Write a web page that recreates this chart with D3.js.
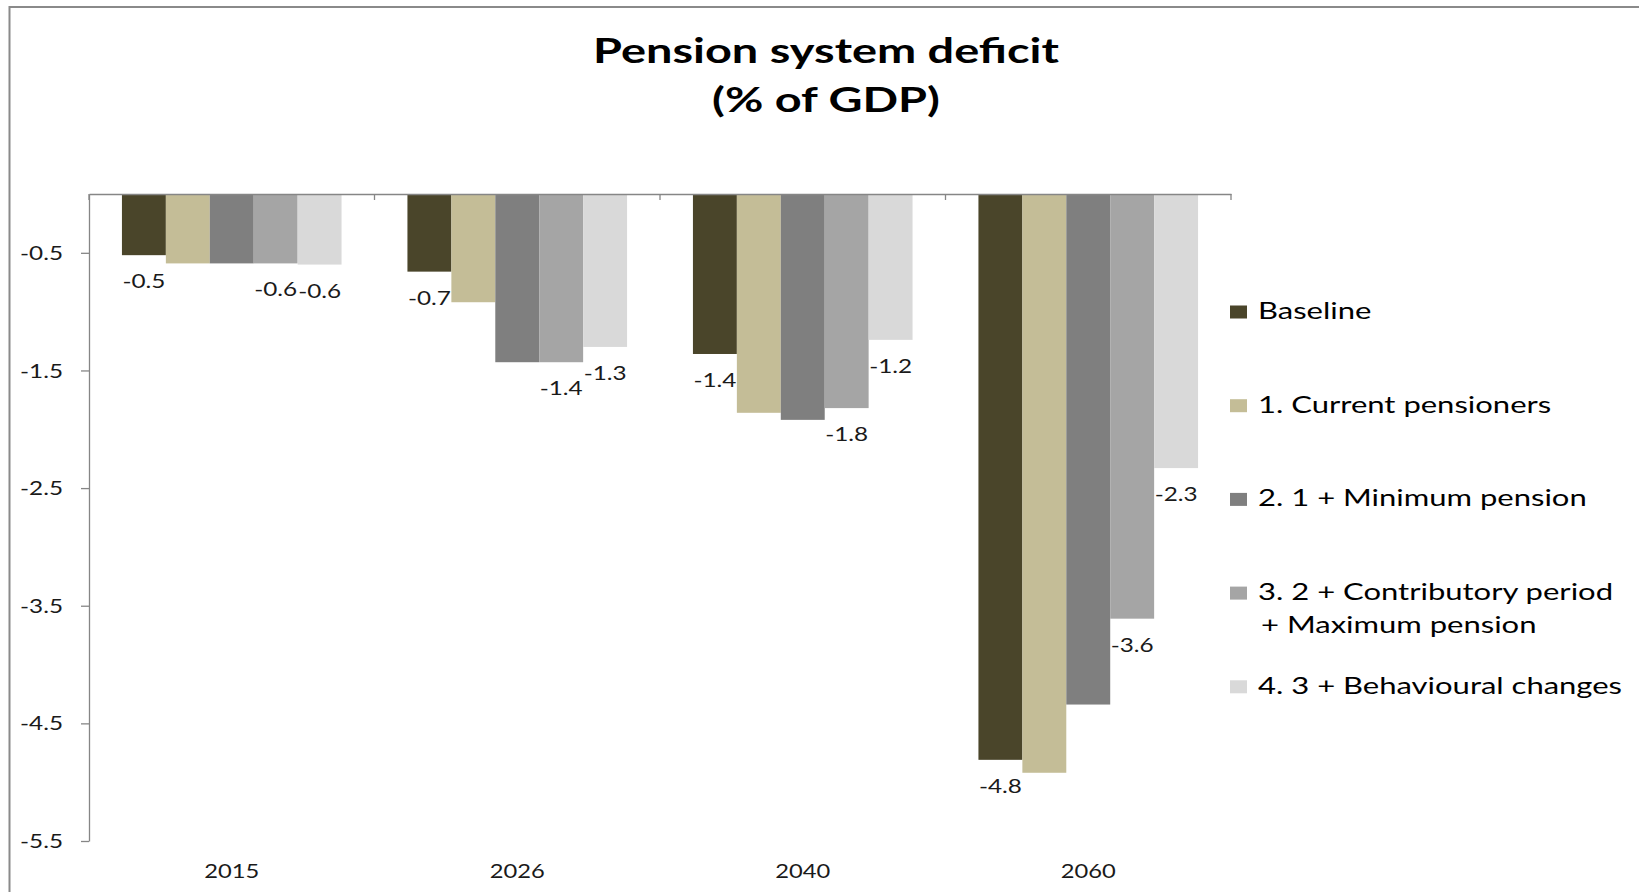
<!DOCTYPE html>
<html><head><meta charset="utf-8">
<script src="https://cdn.jsdelivr.net/npm/d3@7"></script>
<style>html,body{margin:0;padding:0;background:#fff;overflow:hidden}</style>
</head><body><svg id="c" width="1639" height="892"></svg>
<script>
// ---- data ----
const categories = ["2015", "2026", "2040", "2060"];
const baseline = [-0.52, -0.66, -1.36, -4.81];
const currentPensioners = [-0.59, -0.92, -1.86, -4.92];
const minimumPension = [-0.59, -1.43, -1.92, -4.34];
const contributoryPeriod = [-0.59, -1.43, -1.82, -3.61];
const behaviouralChanges = [-0.60, -1.30, -1.24, -2.33];
const seriesValues = [baseline, currentPensioners, minimumPension, contributoryPeriod, behaviouralChanges];
const seriesLabels = [["Baseline"], ["1. Current pensioners"], ["2. 1 + Minimum pension"],
  ["3. 2 + Contributory period", "+ Maximum pension"], ["4. 3 + Behavioural changes"]];
const labelledSeries = [true, false, false, true, true];
const seriesColors = ["#4a452a", "#c4bd97", "#7f7f7f", "#a5a5a5", "#d9d9d9"];
const yTicks = [-0.5, -1.5, -2.5, -3.5, -4.5, -5.5];
const titleLines = ["Pension system deficit", "(% of GDP)"];

// ---- layout ----
const FONT = "Lato, 'Open Sans', sans-serif";
const plotL = 89, plotR = 1231, plotT = 194, plotB = 841;
const svg = d3.select("#c");
svg.append("rect").attr("width", 1639).attr("height", 892).attr("fill", "#fff");
svg.append("rect").attr("x", 9.5).attr("y", 7).attr("width", 1700).attr("height", 1000)
  .attr("fill", "none").attr("stroke", "#8a8a8a").attr("stroke-width", 2);

function naturalWidth(str, size, weight) {
  const t = svg.append("text").attr("font-family", FONT).attr("font-size", size)
    .attr("font-weight", weight || 400).text(str);
  const w = t.node().getComputedTextLength();
  t.remove();
  return w;
}
const sxSmall = 43 / naturalWidth("-0.5", 20);
const sxCat = 55 / naturalWidth("2015", 20);
const sxLegend = 364 / naturalWidth("4. 3 + Behavioural changes", 22.3);
const sxTitle = 466 / naturalWidth("Pension system deficit", 33.5, 700);

const x = d3.scaleBand().domain(categories).range([plotL, plotR]).padding(0);
const xs = d3.scaleBand().domain(d3.range(seriesValues.length)).range([0, x.bandwidth()])
  .paddingInner(0).paddingOuter(0.75);
const y = d3.scaleLinear().domain([0, -5.5]).range([plotT, plotB]);
const fmt = d => d.toFixed(1);

// title
svg.append("g").selectAll("text").data(titleLines).join("text")
  .attr("transform", (d, i) => `translate(826,${63 + i * 49}) scale(${sxTitle},1)`)
  .attr("text-anchor", "middle").attr("font-family", FONT).attr("font-weight", 700)
  .attr("font-size", 33.5).attr("fill", "#000").text(d => d);

// y axis
const yAxis = svg.append("g").attr("transform", `translate(${plotL},0)`)
  .call(d3.axisLeft(y).tickValues(yTicks).tickFormat(fmt).tickSize(8).tickSizeOuter(0));
yAxis.select(".domain").attr("stroke", "#868686").attr("stroke-width", 1.3);
yAxis.selectAll(".tick line").attr("stroke", "#868686").attr("stroke-width", 1.3);
yAxis.selectAll(".tick text").attr("x", null).attr("dy", "0.33em")
  .attr("transform", `translate(-26,0) scale(${sxSmall},1)`)
  .attr("font-family", FONT).attr("font-size", 20).attr("fill", "#1a1a1a");

// data labels (drawn under bars)
const labelData = [];
seriesValues.forEach((vals, si) => {
  if (!labelledSeries[si]) return;
  vals.forEach((v, ci) => labelData.push({ si, ci, v }));
});
svg.append("g").selectAll("text").data(labelData).join("text")
  .attr("transform", d => `translate(${x(categories[d.ci]) + xs(d.si) + xs.bandwidth() / 2},${y(d.v) + 33}) scale(${sxSmall},1)`)
  .attr("text-anchor", "middle").attr("font-family", FONT).attr("font-size", 20)
  .attr("fill", "#1a1a1a").text(d => fmt(d.v));

// bars
const barG = svg.append("g");
seriesValues.forEach((vals, si) => {
  barG.append("g").attr("fill", seriesColors[si]).selectAll("rect").data(vals).join("rect")
    .attr("x", (d, ci) => x(categories[ci]) + xs(si))
    .attr("y", y(0))
    .attr("width", xs.bandwidth())
    .attr("height", d => y(d) - y(0));
});

// zero line with category boundary ticks
const xAxis = svg.append("g").attr("transform", `translate(0,${y(0)})`)
  .call(d3.axisBottom(x).tickSize(0).tickSizeOuter(0).tickFormat(""));
xAxis.select(".domain").attr("stroke", "#868686").attr("stroke-width", 1.3);
const bounds = categories.map(c => x(c)).concat([x.range()[1]]);
svg.append("g").selectAll("line").data(bounds).join("line")
  .attr("x1", d => d).attr("x2", d => d).attr("y1", y(0)).attr("y2", y(0) + 6)
  .attr("stroke", "#868686").attr("stroke-width", 1.3);

// category labels
svg.append("g").selectAll("text").data(categories).join("text")
  .attr("transform", d => `translate(${x(d) + x.bandwidth() / 2},878) scale(${sxCat},1)`)
  .attr("text-anchor", "middle").attr("font-family", FONT).attr("font-size", 20)
  .attr("fill", "#1a1a1a").text(d => d);

// legend
const leg = svg.append("g");
seriesLabels.forEach((lines, i) => {
  const by = 319 + i * 93.7;
  leg.append("rect").attr("x", 1230).attr("y", by - 13.5).attr("width", 17).attr("height", 13)
    .attr("fill", seriesColors[i]);
  lines.forEach((ln, j) => {
    leg.append("text")
      .attr("transform", `translate(${j === 0 ? 1258 : 1261},${by + j * 33}) scale(${sxLegend},1)`)
      .attr("font-family", FONT).attr("font-size", 22.3).attr("fill", "#000").text(ln);
  });
});
</script></body></html>
